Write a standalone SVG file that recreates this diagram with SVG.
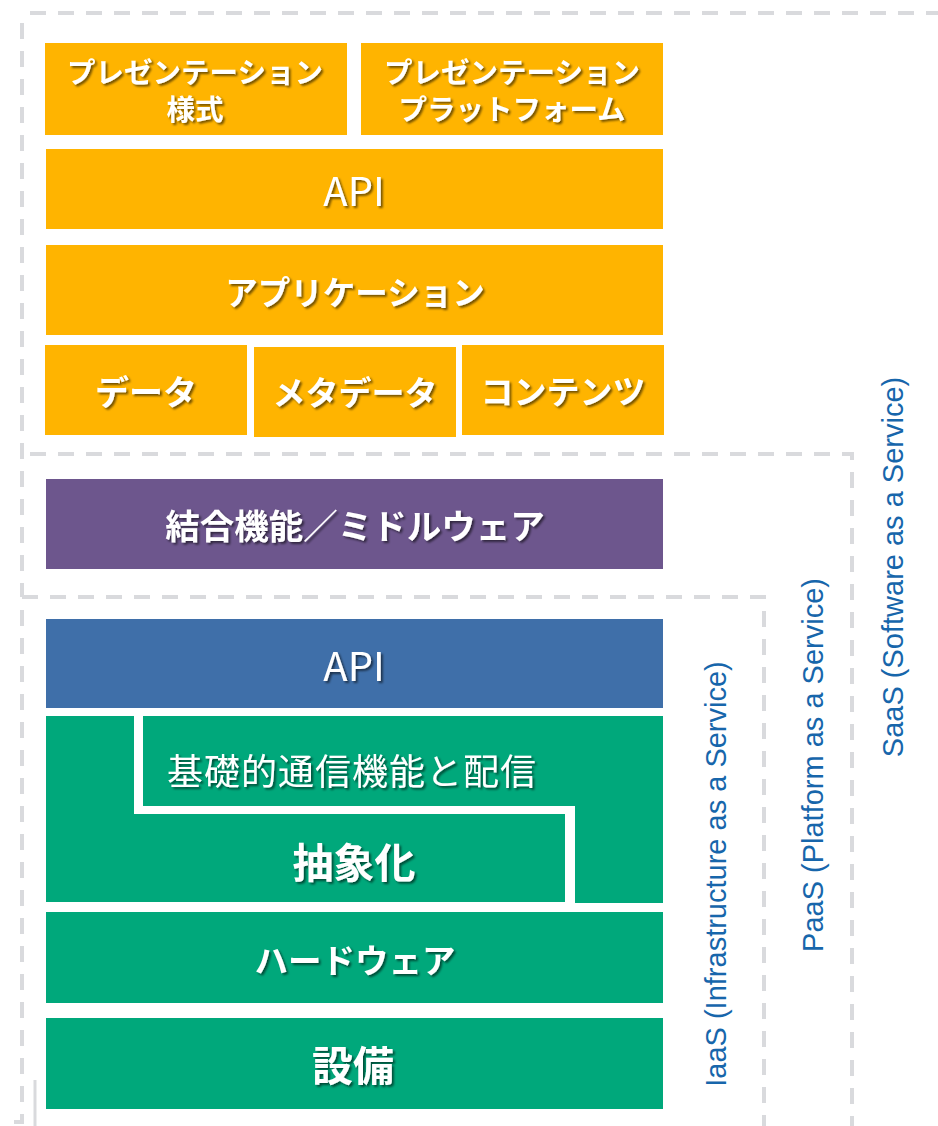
<svg xmlns="http://www.w3.org/2000/svg" width="938" height="1126" viewBox="0 0 938 1126">
<style>
.dash{fill:none;stroke:#D9DADD;stroke-width:4;stroke-dasharray:16 12}
.thin{fill:none;stroke:#D9DADD;stroke-width:3}
.org{fill:#FFB400}
.pur{fill:#6D568D}
.blu{fill:#3F6FA9}
.grn{fill:#00A87B}
.t{fill:#FFFFFF;font-family:"Noto Sans CJK JP","Noto Sans",sans-serif;text-anchor:middle;dominant-baseline:central;filter:url(#sh)}
.b{font-weight:bold}
.v{fill:#1766AB;font-family:"Liberation Sans",Arial,sans-serif;font-size:29px;text-anchor:middle}
</style>
<defs>
<filter id="sh" x="-10%" y="-30%" width="120%" height="160%">
<feDropShadow dx="2" dy="2" stdDeviation="1.2" flood-color="#000" flood-opacity="0.55"/>
</filter>
</defs>
<rect width="938" height="1126" fill="#FFFFFF"/>
<g id="frames">
<path class="dash" d="M30,13 H938"/>
<path class="dash" d="M22,23 V597"/>
<path class="dash" d="M30,454 H852 V1126"/>
<path class="dash" d="M22,597 H764 V1126"/>
<path class="dash" d="M22,610 V1122 H8"/>
<path class="thin" d="M35,1080 V1126"/>
</g>
<g id="n1"><rect class="org" x="45" y="43" width="302" height="92"/><text class="t b" x="195" y="70" font-size="28.5">プレゼンテーション</text><text class="t b" x="195" y="107" font-size="28.5">様式</text></g>
<g id="n2"><rect class="org" x="361" y="43" width="302" height="92"/><text class="t b" x="512" y="70" font-size="28.5">プレゼンテーション</text><text class="t b" x="512" y="107" font-size="28.5">プラットフォーム</text></g>
<g id="n3"><rect class="org" x="46" y="149" width="617" height="80"/><text class="t" x="354" y="189" font-size="40">API</text></g>
<g id="n4"><rect class="org" x="46" y="245" width="617" height="90"/><text class="t b" x="355" y="290" font-size="32.5">アプリケーション</text></g>
<g id="n5"><rect class="org" x="45" y="345" width="202" height="90"/><text class="t b" x="146" y="390" font-size="34">データ</text></g>
<g id="n6"><rect class="org" x="254" y="347" width="202" height="90"/><text class="t b" x="355" y="391" font-size="33">メタデータ</text></g>
<g id="n7"><rect class="org" x="462" y="345" width="202" height="90"/><text class="t b" x="563" y="390" font-size="33">コンテンツ</text></g>
<g id="n8"><rect class="pur" x="46" y="479" width="617" height="90"/><text class="t b" x="355" y="524" font-size="34.5">結合機能／ミドルウェア</text></g>
<g id="n9"><rect class="blu" x="46" y="619" width="617" height="89"/><text class="t" x="354" y="664" font-size="40">API</text></g>
<g id="n10"><polygon class="grn" points="143,716 663,716 663,903 575,903 575,806 143,806"/><text class="t" x="352" y="769" font-size="36" letter-spacing="1">基礎的通信機能と配信</text></g>
<g id="n11"><polygon class="grn" points="46,716 134,716 134,814 565,814 565,902 46,902"/><text class="t b" x="354" y="860" font-size="41">抽象化</text></g>
<g id="n12"><rect class="grn" x="46" y="912" width="617" height="91"/><text class="t b" x="355" y="958" font-size="33.5">ハードウェア</text></g>
<g id="n13"><rect class="grn" x="46" y="1018" width="617" height="91"/><text class="t b" x="353" y="1063" font-size="41">設備</text></g>
<g id="labels">
<text class="v" transform="translate(903,567) rotate(-90)">SaaS (Software as a Service)</text>
<text class="v" transform="translate(823,765) rotate(-90)">PaaS (Platform as a Service)</text>
<text class="v" transform="translate(726,874) rotate(-90)">IaaS (Infrastructure as a Service)</text>
</g>
</svg>
